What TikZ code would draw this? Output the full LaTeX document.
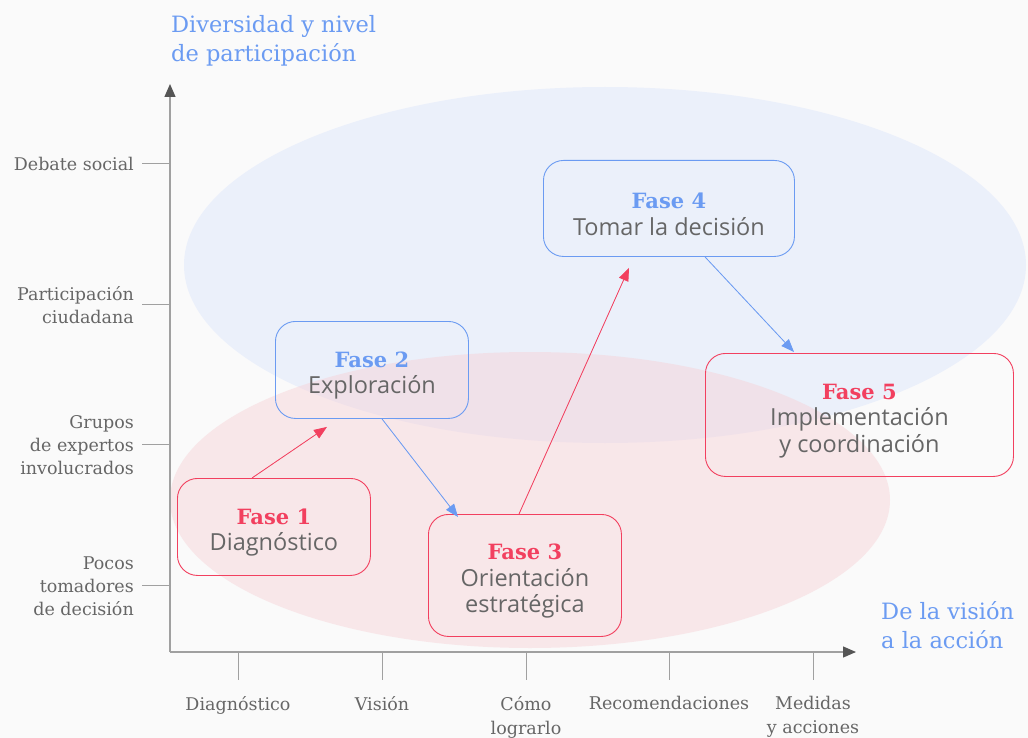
\documentclass[tikz,border=0pt]{standalone}
\usepackage{fontspec}
\setmainfont{DejaVu Serif}
\newfontfamily\boxfont{Open Sans}
\newfontfamily\fasefont{DejaVu Serif}
\usetikzlibrary{arrows.meta,calc}
\definecolor{bg}{HTML}{FAFAFA}
\definecolor{cblue}{HTML}{6B9BF2}
\definecolor{cred}{HTML}{F2405F}
\definecolor{ctext}{HTML}{666666}
\definecolor{caxis}{HTML}{A0A0A0}
\definecolor{carrow}{HTML}{555555}
\definecolor{eblue}{HTML}{EBF0FA}
\definecolor{ered}{HTML}{F7D0D5}
\tikzset{
  phase/.style={rounded corners=20pt, line width=0.9pt, inner sep=0pt, anchor=north west,
    align=center, text=ctext, font=\boxfont\fontsize{23.5}{26.5}\selectfont},
  redbox/.style={phase, draw=cred},
  bluebox/.style={phase, draw=cblue},
  ylab/.style={anchor=east, align=right, inner sep=0pt, text=ctext, font=\fontsize{17.5}{23}\selectfont},
  xlab/.style={anchor=north, align=center, inner sep=0pt, text=ctext, font=\fontsize{17.5}{24}\selectfont},
  title/.style={anchor=north west, align=left, inner sep=0pt, text=cblue, font=\fontsize{22.5}{29.5}\selectfont},
  tick/.style={draw=caxis, line width=0.8pt},
  axis/.style={draw=caxis, line width=1.2pt, -{Triangle[length=13pt,width=11pt,color=carrow]}},
  conn/.style={line width=0.8pt, -{Triangle[length=13pt,width=10pt]}},
}
\newcommand{\fase}[2]{{\rule{0pt}{27pt}\fasefont\bfseries\fontsize{21}{26.5}\selectfont\color{#1}#2}}
\begin{document}
\begin{tikzpicture}[x=1pt,y=-1pt]
\fill[bg] (0,0) rectangle (1028,738);
\useasboundingbox (0,0) rectangle (1028,738);
% ellipses
\fill[eblue] (605,265) ellipse [x radius=421, y radius=178];
\fill[ered, opacity=0.45] (530,500) ellipse [x radius=360, y radius=148];
% axes
\coordinate (O) at (170,652);
\coordinate (Ytop) at (170,84);
\coordinate (Xend) at (856,652);
\draw[axis] (O) -- (Ytop);
\draw[axis] (O) -- (Xend);
% y ticks and labels
\foreach \yy/\nm/\txt in {163/y1/{Debate social},304/y2/{Participación\\ciudadana},444/y3/{Grupos\\de expertos\\involucrados},585/y4/{Pocos\\tomadores\\de decisión}}{
  \coordinate (\nm a) at (142,\yy);
  \coordinate (\nm b) at (170,\yy);
  \draw[tick] (\nm a) -- (\nm b);
  \node[ylab] (\nm) at (134,\yy+1) {\txt};
}
% x ticks and labels
\foreach \xx/\nm/\txt in {238/x1/{Diagnóstico},382/x2/{Visión},526/x3/{Cómo\\lograrlo},669/x4/{Recomendaciones},813/x5/{Medidas\\y acciones}}{
  \coordinate (\nm a) at (\xx,652);
  \coordinate (\nm b) at (\xx,680);
  \draw[tick] (\nm a) -- (\nm b);
  \node[xlab] (\nm) at (\xx,696) {\txt};
}
% titles
\node[title] (tY) at (171,15) {Diversidad y nivel\\de participación};
\node[title] (tX) at (881,601) {De la visión\\a la acción};
% phases
\node[redbox, minimum width=193pt, minimum height=97pt] (f1) at (177,478) {\fase{cred}{Fase 1}\\Diagnóstico};
\node[bluebox, minimum width=193pt, minimum height=97pt] (f2) at (275,321) {\fase{cblue}{Fase 2}\\Exploración};
\node[redbox, minimum width=193pt, minimum height=122pt] (f3) at (428,514) {\fase{cred}{Fase 3}\\Orientación\\estratégica};
\node[bluebox, minimum width=251pt, minimum height=96pt] (f4) at (543,160) {\fase{cblue}{Fase 4}\\Tomar la decisión};
\node[redbox, minimum width=308pt, minimum height=123pt] (f5) at (705,353) {\fase{cred}{Fase 5}\\Implementación\\y coordinación};
% connectors
\draw[conn, draw=cred, fill=cred] ($(f1.north west)+(75,0)$) -- ($(f2.south west)+(52,8)$);
\draw[conn, draw=cblue, fill=cblue] ($(f2.south west)+(107,0)$) -- ($(f3.north west)+(30,3)$);
\draw[conn, draw=cred, fill=cred] ($(f3.north west)+(91,0)$) -- ($(f4.south west)+(86,11)$);
\draw[conn, draw=cblue, fill=cblue] ($(f4.south west)+(162,0)$) -- ($(f5.north west)+(89,-1)$);
\end{tikzpicture}
\end{document}
